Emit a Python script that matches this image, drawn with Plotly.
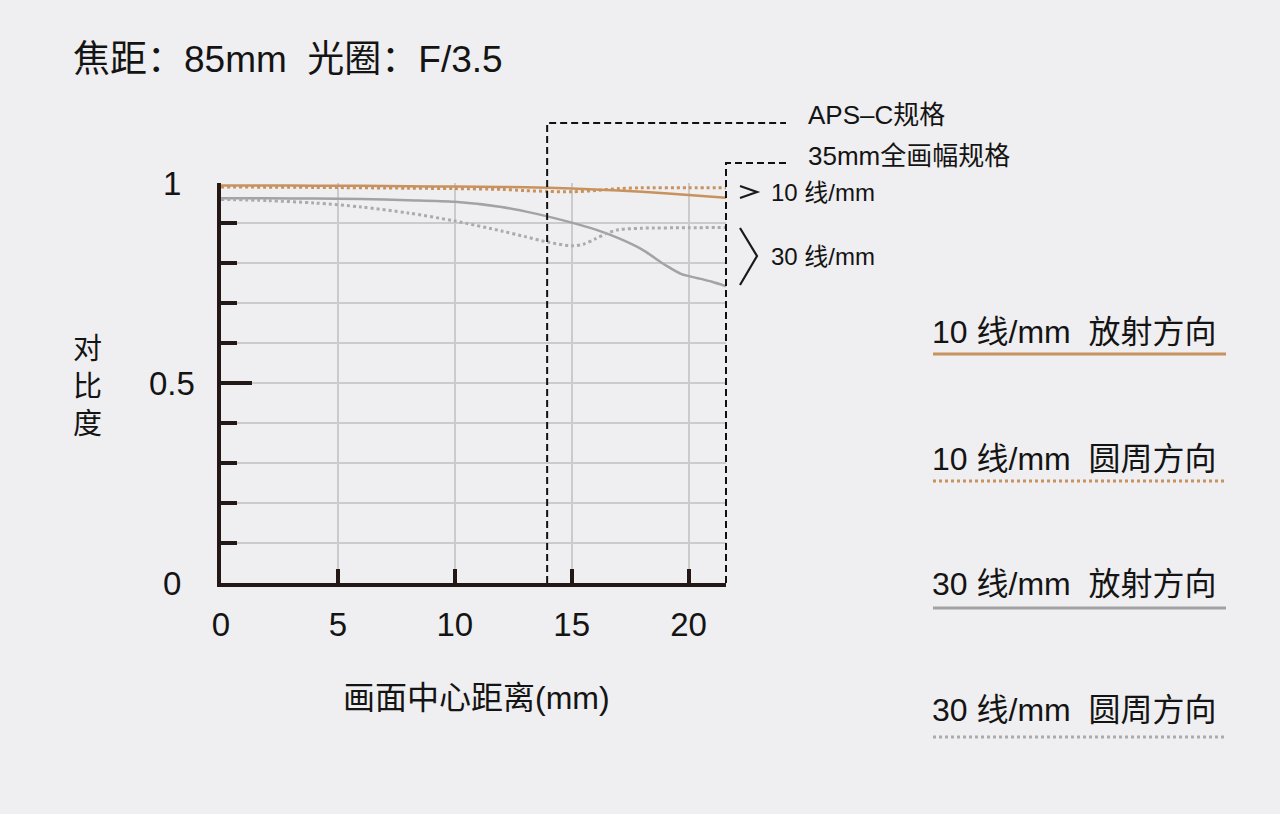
import plotly.graph_objects as go

# ---------------- data ----------------
x_10r = [0, 2, 4, 6, 8, 10, 12, 14, 16, 18, 20, 21.6]
y_10r = [0.994, 0.994, 0.993, 0.993, 0.992, 0.991, 0.990, 0.988, 0.984, 0.978, 0.970, 0.963]

x_10t = [0, 4, 8, 10, 12, 13, 14, 15, 16, 17, 18, 20, 21.6]
y_10t = [0.990, 0.989, 0.987, 0.986, 0.984, 0.981, 0.979, 0.978, 0.981, 0.986, 0.988, 0.988, 0.988]

x_30r = [0, 2, 4, 6, 8, 10, 12, 13, 14, 15, 16, 17, 18, 19, 19.7, 20.4, 21, 21.6]
y_30r = [0.962, 0.962, 0.961, 0.960, 0.957, 0.953, 0.940, 0.929, 0.916, 0.901, 0.884, 0.862,
         0.834, 0.795, 0.772, 0.762, 0.753, 0.742]

x_30t = [0, 2, 4, 6, 8, 10, 12, 13, 14, 15, 15.5, 16, 16.5, 17, 18, 20, 21.6]
y_30t = [0.959, 0.956, 0.950, 0.940, 0.925, 0.905, 0.880, 0.866, 0.852, 0.843, 0.847, 0.860,
         0.874, 0.883, 0.887, 0.888, 0.889]

series_names = ["10 线/mm  放射方向", "10 线/mm  圆周方向", "30 线/mm  放射方向", "30 线/mm  圆周方向"]
y_tick_vals = [0, 0.5, 1]
y_tick_text = ["0", "0.5", "1"]
x_max = 21.6
apsc_edge = 13.95
title_text = "焦距：85mm  光圈：F/3.5"
x_title = "画面中心距离(mm)"
y_title = "对<br>比<br>度"
apsc_label = "APS–C规格"
ff_label = "35mm全画幅规格"
group_labels = ["10 线/mm", "30 线/mm"]

# ---------------- style ----------------
ORANGE = "#c8925e"
GRAY = "#a3a3a3"
GRAY_DOT = "#ababab"
DARK = "#231815"
GRID = "#cbcbcb"
BG = "#efeef0"
TXT = "#141414"
FONT = "Liberation Sans, Arial, Noto Sans CJK SC, sans-serif"

W, H = 1280, 814
L, R, T, B = 221, 554, 183, 231
PW, PH = W - L - R, H - T - B


def px(xp):
    return (xp - L) / PW


def py(yp):
    return (H - B - yp) / PH


fig = go.Figure()
styles = [
    (x_10r, y_10r, ORANGE, "solid", 2.5),
    (x_10t, y_10t, ORANGE, "dot", 3),
    (x_30r, y_30r, GRAY, "solid", 2.5),
    (x_30t, y_30t, GRAY_DOT, "dot", 3),
]
for (xs, ys, c, d, w), name in zip(styles, series_names):
    fig.add_trace(go.Scatter(x=xs, y=ys, mode="lines", name=name,
                             line=dict(color=c, dash=d, width=w, shape="spline", smoothing=0.8),
                             showlegend=False, hoverinfo="skip"))

shapes = []
annotations = []

# APS-C and full-frame dashed boundaries
dash_line = dict(color="#111111", width=2, dash="7px,4px")
xa = apsc_edge / x_max
shapes.append(dict(type="path", xref="paper", yref="paper",
                   path=f"M {xa},0 L {xa},{py(123)} L {px(786)},{py(123)}", line=dash_line))
shapes.append(dict(type="path", xref="paper", yref="paper",
                   path=f"M 1,0 L 1,{py(163)} L {px(786)},{py(163)}", line=dash_line))
annotations.append(dict(text=apsc_label, xref="paper", yref="paper", x=px(806), y=py(115),
                        xanchor="left", yanchor="middle", showarrow=False,
                        font=dict(size=26, color=TXT, family=FONT)))
annotations.append(dict(text=ff_label, xref="paper", yref="paper", x=px(806), y=py(156),
                        xanchor="left", yanchor="middle", showarrow=False,
                        font=dict(size=26, color=TXT, family=FONT)))

# chevrons grouping the curves
chev = dict(color="#1a1a1a", width=2.2)
shapes.append(dict(type="path", xref="paper", yref="paper",
                   path=f"M {px(740)},{py(186)} L {px(757)},{py(192)} L {px(740)},{py(198)}", line=chev))
shapes.append(dict(type="path", xref="paper", yref="paper",
                   path=f"M {px(740)},{py(228)} L {px(757)},{py(256)} L {px(740)},{py(285)}", line=chev))
for lab, yp in zip(group_labels, [192, 256]):
    annotations.append(dict(text=lab, xref="paper", yref="paper", x=px(769), y=py(yp),
                            xanchor="left", yanchor="middle", showarrow=False,
                            font=dict(size=24, color=TXT, family=FONT)))

# custom legend
leg_text_y = [332, 459, 584, 710]
leg_line_y = [354, 481, 608, 737]
for (xs, ys, c, d, w), name, ty, ly in zip(styles, series_names, leg_text_y, leg_line_y):
    annotations.append(dict(text=name, xref="paper", yref="paper", x=px(930), y=py(ty),
                            xanchor="left", yanchor="middle", showarrow=False,
                            font=dict(size=32, color=TXT, family=FONT)))
    shapes.append(dict(type="line", xref="paper", yref="paper",
                       x0=px(933), x1=px(1226), y0=py(ly), y1=py(ly),
                       line=dict(color=c, width=3, dash=d)))

# y tick labels (centred like the reference)
for v, t in zip(y_tick_vals, y_tick_text):
    annotations.append(dict(text=t, xref="paper", yref="y", x=px(172), y=v,
                            xanchor="center", yanchor="middle", showarrow=False,
                            font=dict(size=33, color=TXT, family=FONT)))

# axis titles and chart title
annotations.append(dict(text=y_title, xref="paper", yref="paper", x=px(87), y=py(386),
                        xanchor="center", yanchor="middle", showarrow=False, align="center",
                        font=dict(size=29, color=TXT, family=FONT)))
annotations.append(dict(text=x_title, xref="paper", yref="paper", x=px(476), y=py(698),
                        xanchor="center", yanchor="middle", showarrow=False,
                        font=dict(size=32, color=TXT, family=FONT)))
annotations.append(dict(text=title_text, xref="paper", yref="paper", x=px(71), y=py(60),
                        xanchor="left", yanchor="middle", showarrow=False,
                        font=dict(size=37, color=TXT, family=FONT)))

fig.update_layout(
    width=W, height=H,
    margin=dict(l=L, r=R, t=T, b=B, pad=0),
    paper_bgcolor=BG, plot_bgcolor=BG,
    showlegend=False,
    shapes=shapes, annotations=annotations,
    font=dict(family=FONT, color=TXT),
)
fig.update_xaxes(range=[0, x_max], tickmode="linear", tick0=0, dtick=5,
                 ticks="inside", ticklen=14, tickwidth=4, tickcolor=DARK,
                 showline=True, linecolor=DARK, linewidth=4,
                 showgrid=True, gridcolor=GRID, gridwidth=1.5, zeroline=False,
                 tickfont=dict(size=33, color=TXT, family=FONT),
                 ticklabelstandoff=9, fixedrange=True)
fig.update_yaxes(range=[0, 1], tickmode="linear", tick0=0, dtick=0.5,
                 ticks="inside", ticklen=31, tickwidth=4, tickcolor=DARK,
                 showticklabels=False,
                 showline=True, linecolor=DARK, linewidth=4,
                 showgrid=True, gridcolor=GRID, gridwidth=1.5, zeroline=False,
                 minor=dict(dtick=0.1, ticks="inside", ticklen=16, tickwidth=4, tickcolor=DARK,
                            showgrid=True, gridcolor=GRID, gridwidth=1.5),
                 fixedrange=True)

fig.write_html("out.html", config={"displayModeBar": False},
               post_script="document.body.style.margin='0';document.body.style.overflow='hidden';")
